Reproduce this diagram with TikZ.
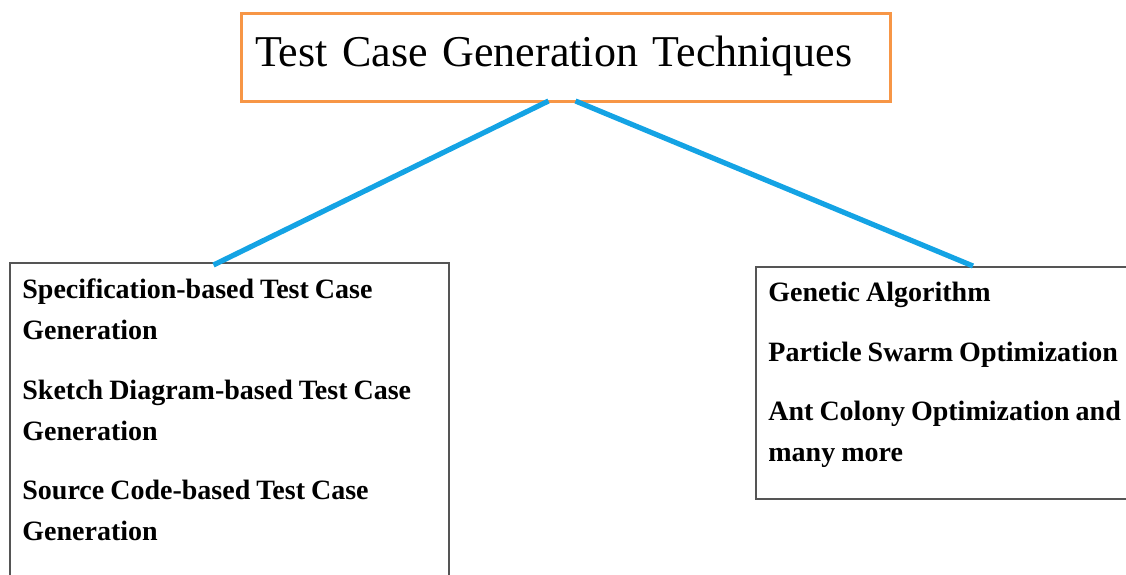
\documentclass[tikz,border=0pt]{standalone}
\usepackage{fontspec}
\setmainfont{Liberation Serif}
\usetikzlibrary{calc}
\definecolor{titleorange}{RGB}{247, 150, 70}
\definecolor{linkblue}{RGB}{20, 163, 228}
\definecolor{boxgray}{RGB}{85, 85, 85}
\newcommand{\tightspace}{\spaceskip=3pt plus 1pt\relax}

\tikzset{
    groupbox/.style={draw=boxgray, line width=1pt, anchor=north west, inner sep=0pt, outer sep=0pt},
    item/.style={anchor=base west, align=left, inner sep=0pt,
        font=\bfseries\fontsize{14}{20.5}\selectfont, execute at begin node=\tightspace},
    link/.style={linkblue, line width=2.6pt}
}

\begin{document}
\begin{tikzpicture}[x=0.5pt, y=-0.5pt]
    \useasboundingbox (0,0) rectangle (1126,574);
    \clip (0,0) rectangle (1126,574);

    % heading
    \node (title) [draw=titleorange, line width=1.5pt, anchor=base west, outer sep=0pt,
        inner xsep=7pt, inner ysep=0pt, text height=26.5pt, text depth=17.5pt,
        text width=310.5pt, align=left, font=\fontsize{22}{26}\selectfont]
        at (241,66) {Test Case Generation Techniques};

    % the two groups
    \node (leftbox) [groupbox, minimum width=219.5pt, minimum height=180pt] at (10,263) {};
    \node (rightbox) [groupbox, minimum width=217pt, minimum height=116pt] at (756,267) {};

    \node (spec) [item, text width=205pt] at (22,298) {Specification-based Test Case\\Generation};
    \node (sketch) [item, text width=205pt] at (22,399) {Sketch Diagram-based Test Case\\Generation};
    \node (source) [item, text width=205pt] at (22,499) {Source Code-based Test Case\\Generation};

    \node (genetic) [item, text width=200pt] at (768,301) {Genetic Algorithm};
    \node (pso) [item, text width=200pt] at (768,361) {Particle Swarm Optimization};
    \node (aco) [item, text width=200pt] at (768,420) {Ant Colony Optimization and\\many more};

    % connectors
    \draw[link] ($(title.south)+(-17,0)$) -- ($(leftbox.north)+(-16,2)$);
    \draw[link] ($(title.south)+(10,0)$) -- ($(rightbox.north)+(0,-1)$);
\end{tikzpicture}
\end{document}
